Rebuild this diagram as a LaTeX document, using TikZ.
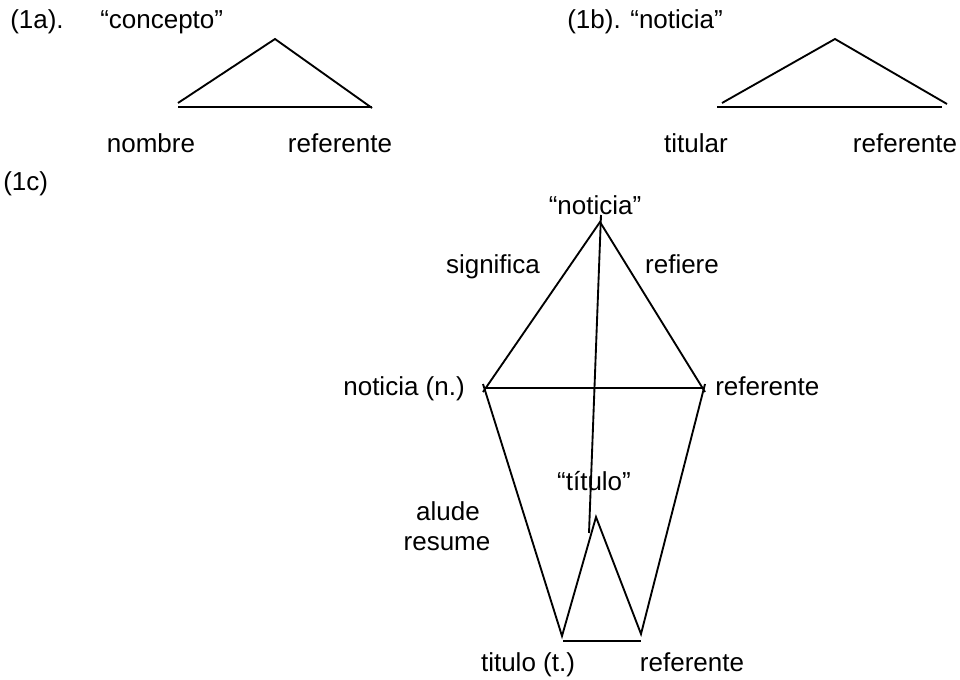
\documentclass[tikz,border=0pt]{standalone}
\usepackage{fontspec}
\setmainfont{Liberation Sans}
\newcommand{\labfont}{\fontsize{19.5}{23}\selectfont}
\tikzset{
  lbl/.style={anchor=base, inner sep=0pt, font=\labfont},
  ln/.style={line width=1.4pt, line cap=butt},
}
\begin{document}
\begin{tikzpicture}[x=0.75pt,y=-0.75pt]
\useasboundingbox (0,0) rectangle (960,680);
% ---------- (1a) ----------
\node[lbl, anchor=base west] (h1a) at (10,29) {(1a).};
\node[lbl, anchor=base west] (c1a) at (100,29) {“concepto”};
\coordinate (aA) at (275,39);
\coordinate (aL) at (178,103);
\coordinate (aR) at (372,108);
\coordinate (aBL) at (178,107);
\coordinate (aBR) at (372,107);
\draw[ln] (aL) -- (aA) -- (aR);
\draw[ln] (aBL) -- (aBR);
\node[lbl] (nom) at (151,153) {nombre};
\node[lbl] (ref1a) at (340,153) {referente};
% ---------- (1b) ----------
\node[lbl, anchor=base west] (h1b) at (567,29) {(1b). “noticia”};
\coordinate (bA) at (835,39);
\coordinate (bL) at (722,103);
\coordinate (bR) at (947,104);
\coordinate (bBL) at (717,107);
\coordinate (bBR) at (942,107);
\draw[ln] (bL) -- (bA) -- (bR);
\draw[ln] (bBL) -- (bBR);
\node[lbl] (tit) at (696,153) {titular};
\node[lbl] (ref1b) at (905,153) {referente};
% ---------- (1c) ----------
\node[lbl, anchor=base west] (h1c) at (3,191) {(1c)};
\node[lbl] (not) at (595,215) {“noticia”};
\coordinate (A) at (600,222);
\coordinate (Lu) at (483,392);
\coordinate (Ld) at (483,384);
\coordinate (Ru) at (705,392);
\coordinate (Rd) at (705,384);
\coordinate (L) at (485,388);
\coordinate (R) at (703,388);
\coordinate (Ltop) at (601,215);
\coordinate (Lbot) at (589,533);
\coordinate (I) at (596,517);
\coordinate (BL) at (562,636);
\coordinate (BR) at (641,634);
\coordinate (BBL) at (563,641);
\coordinate (BBR) at (641,641);
\draw[ln] (Lu) -- (A) -- (Ru);
\draw[ln] (L) -- (R);
\draw[ln] (Ltop) -- (Lbot);
\draw[ln] (Ld) -- (BL) -- (I) -- (BR) -- (Rd);
\draw[ln] (BBL) -- (BBR);
\node[lbl] (sig) at (493,274) {significa};
\node[lbl] (refi) at (682,274) {refiere};
\node[lbl, anchor=base east] (nn) at (465,396) {noticia (n.)};
\node[lbl, anchor=base west] (refc) at (715,396) {referente};
\node[lbl] (titq) at (594,491) {“título”};
\node[lbl] (alu) at (448,521) {alude};
\node[lbl] (res) at (447,551) {resume};
\node[lbl] (tt) at (528,671) {titulo (t.)};
\node[lbl] (refb) at (692,671) {referente};
\end{tikzpicture}
\end{document}
